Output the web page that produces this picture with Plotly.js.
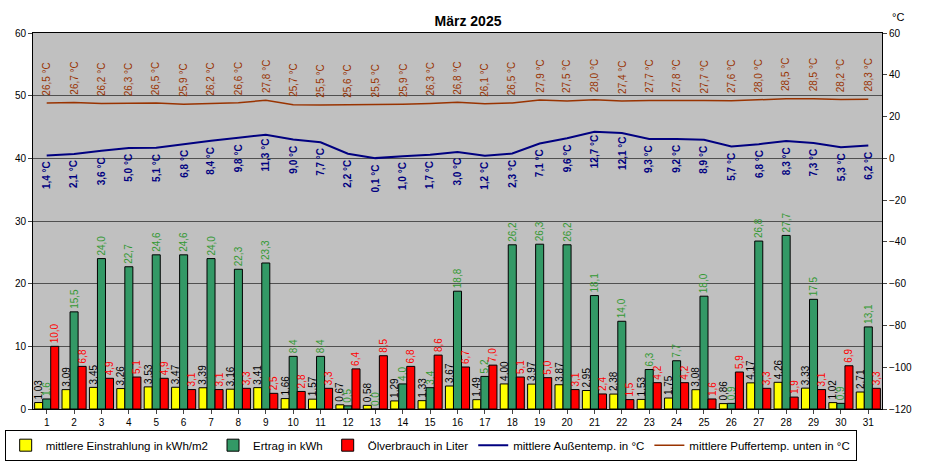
<!DOCTYPE html>
<html>
<head>
<meta charset="utf-8">
<script src="https://cdn.plot.ly/plotly-3.0.1.min.js"></script>
<style>body{margin:0;background:#fff}#chart{width:936px;height:463px}</style>
</head>
<body>
<div id="chart"></div>
<script>
var days = [];
for (var d = 1; d <= 31; d++) days.push(d);

var einstrahlung = [1.03,3.09,3.45,3.26,3.53,3.47,3.39,3.16,3.41,1.66,1.57,0.67,0.58,1.29,1.33,3.67,1.49,4.00,3.97,3.87,2.95,2.38,1.53,1.75,3.08,0.86,4.17,4.26,3.33,1.02,2.71];
var ertrag = [1.6,15.5,24.0,22.7,24.6,24.6,24.0,22.3,23.3,8.4,8.4,0.5,0.0,4.0,3.4,18.8,5.2,26.2,26.3,26.2,18.1,14.0,6.3,7.7,18.0,0.9,26.8,27.7,17.5,0.9,13.1];
var oel = [10.0,6.8,4.9,5.1,4.9,3.1,3.1,3.3,2.5,2.8,3.3,6.4,8.5,6.8,8.6,6.7,7.0,5.1,5.0,3.1,2.4,1.5,4.2,4.2,1.6,5.9,3.3,1.9,3.1,6.9,3.3];
var aussen = [1.4,2.1,3.6,5.0,5.1,6.8,8.4,9.8,11.3,9.0,7.7,2.2,0.1,1.0,1.7,3.0,1.2,2.3,7.1,9.6,12.7,12.1,9.3,9.2,8.9,5.7,6.8,8.3,7.3,5.3,6.2];
var puffer = [26.5,26.7,26.2,26.3,26.5,25.9,26.2,26.6,27.8,25.7,25.5,25.6,25.5,25.9,26.3,26.8,26.1,26.5,27.9,27.5,28.0,27.4,27.7,27.8,27.7,27.6,28.0,28.5,28.5,28.2,28.3];

function fmt(arr, n) {
    return arr.map(function(v) { return v.toFixed(n).replace('.', ','); });
}

function barTrace(name, y, color, textColor, n) {
    return {
        type: 'bar', name: name, x: days, y: y,
        marker: {color: color, line: {color: '#000', width: 1}},
        text: fmt(y, n), textposition: 'outside', textangle: -90,
        textfont: {family: 'Arial, Liberation Sans', size: 10, color: textColor},
        cliponaxis: false, constraintext: 'none'
    };
}

var data = [
    barTrace('mittlere Einstrahlung in kWh/m2', einstrahlung, '#ffff00', '#000', 2),
    barTrace('Ertrag in kWh', ertrag, '#339966', '#339933', 1),
    barTrace('Ölverbrauch in Liter', oel, '#ff0000', '#ff0000', 1),
    {type: 'scatter', mode: 'lines', name: 'mittlere Außentemp. in °C', x: days, y: aussen,
     yaxis: 'y2', line: {color: '#000080', width: 2}},
    {type: 'scatter', mode: 'lines', name: 'mittlere Puffertemp. unten in °C', x: days, y: puffer,
     yaxis: 'y2', line: {color: '#993300', width: 1.5}}
];

var annotations = [];
days.forEach(function(d, i) {
    annotations.push({x: d, y: aussen[i], yref: 'y2', text: fmt(aussen, 1)[i] + ' °C',
        textangle: -90, showarrow: false, yshift: -20,
        font: {family: 'Arial, Liberation Sans', size: 10, color: '#000080', weight: 'bold'}});
    annotations.push({x: d, y: puffer[i], yref: 'y2', text: fmt(puffer, 1)[i] + ' °C',
        textangle: -90, showarrow: false, yshift: 24,
        font: {family: 'Arial, Liberation Sans', size: 10, color: '#993300'}});
});
annotations.push({xref: 'paper', yref: 'paper', x: 1.01, y: 1.02, xanchor: 'left', yanchor: 'bottom',
    text: '°C', showarrow: false, font: {size: 11, color: '#000'}});

var layout = {
    width: 936, height: 463,
    margin: {l: 33, r: 54, t: 33, b: 54},
    paper_bgcolor: '#fff', plot_bgcolor: '#c0c0c0',
    font: {family: 'Arial, Liberation Sans', size: 10, color: '#000'},
    title: {text: '<b>März 2025</b>', x: 0.5, y: 0.965, font: {size: 14}},
    barmode: 'group', bargap: 0.12, bargroupgap: 0,
    showlegend: true,
    legend: {orientation: 'h', xref: 'container', yref: 'container', x: 0.005, y: 0.005,
             xanchor: 'left', yanchor: 'bottom', entrywidthmode: 'pixels',
             bordercolor: '#000', borderwidth: 1, font: {size: 11.5}, bgcolor: '#fff',
             itemwidth: 30, tracegroupgap: 0},
    xaxis: {tickmode: 'array', tickvals: days, range: [0.5, 31.5], showgrid: false,
            showline: true, linecolor: '#000', mirror: true, ticks: 'outside', ticklen: 4},
    yaxis: {range: [0, 60], dtick: 10, gridcolor: '#505050', showline: true, linecolor: '#000',
            mirror: true, ticks: 'outside', ticklen: 4, zeroline: false},
    yaxis2: {range: [-120, 60], dtick: 20, overlaying: 'y', side: 'right', showgrid: false,
             zeroline: false, ticks: 'outside', ticklen: 4, showline: true, linecolor: '#000'},
    separators: ',.',
    annotations: annotations
};

Plotly.newPlot('chart', data, layout, {displayModeBar: false});
</script>
</body>
</html>
